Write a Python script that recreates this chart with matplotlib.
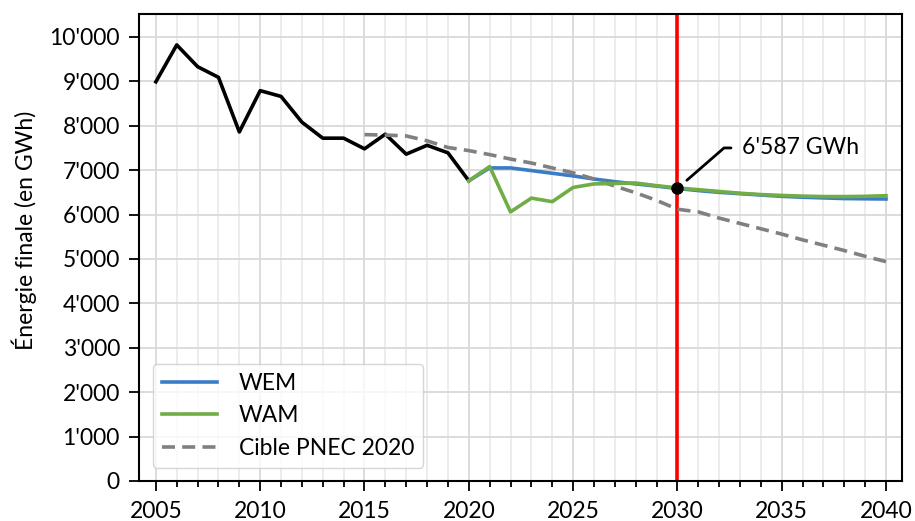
import numpy as np
import matplotlib.pyplot as plt
import matplotlib as mpl
from matplotlib.ticker import FuncFormatter, MultipleLocator

mpl.rcParams["font.family"] = ["Lato", "DejaVu Sans"]

# historical final energy consumption (GWh)
hist_years = list(range(2005, 2021))
hist = [8990, 9820, 9330, 9090, 7860, 8790, 8660, 8080, 7720, 7720,
        7480, 7810, 7360, 7560, 7390, 6760]

# projections
proj_years = list(range(2020, 2041))
wem = [6760, 7050, 7050, 6990, 6930, 6870, 6800, 6740, 6690, 6640,
       6587, 6540, 6500, 6470, 6440, 6410, 6390, 6375, 6360, 6355, 6350]
wam = [6760, 7080, 6060, 6370, 6290, 6610, 6690, 6700, 6710, 6650,
       6600, 6560, 6520, 6480, 6450, 6430, 6415, 6405, 6405, 6410, 6425]

# PNEC 2020 target
pnec_years = list(range(2015, 2041))
pnec = [7800, 7790, 7770, 7660, 7510, 7440, 7350, 7250, 7160, 7050,
        6940, 6800, 6640, 6490, 6320, 6120, 6060, 5920, 5800, 5680,
        5560, 5430, 5310, 5190, 5060, 4940]

target_year = 2030
target_val = 6587

fig = plt.figure(figsize=(9.15, 5.21), dpi=100)
ax = fig.add_axes([0.1519, 0.0768, 0.8342, 0.8958])

fs = 16.5
lw = 2.6
ax.axvline(target_year, color="#ff0000", lw=lw, zorder=2)
ax.plot(hist_years, hist, color="black", lw=lw, zorder=3)
l1, = ax.plot(proj_years, wem, color="#3a7dc6", lw=lw, zorder=3, label="WEM")
l2, = ax.plot(proj_years, wam, color="#70ad47", lw=lw, zorder=4, label="WAM")
l3, = ax.plot(pnec_years, pnec, color="#808080", lw=lw, ls=(0, (3.6, 2.0)),
              zorder=3, label="Cible PNEC 2020")
ax.plot([target_year], [target_val], "o", color="black", ms=8, zorder=6)

ax.annotate("6'587 GWh", xy=(target_year, target_val), xytext=(2033.1, 7500),
            ha="left", va="center", fontsize=fs,
            arrowprops=dict(arrowstyle="-", color="black", lw=2.0,
                            connectionstyle="angle,angleA=0,angleB=41,rad=0",
                            shrinkA=6, shrinkB=9))

ax.set_xlim(2004.19, 2040.78)
ax.set_ylim(0, 10510)
ax.xaxis.set_major_locator(MultipleLocator(5))
ax.xaxis.set_minor_locator(MultipleLocator(1))
ax.yaxis.set_major_locator(MultipleLocator(1000))
ax.yaxis.set_major_formatter(FuncFormatter(lambda v, p: f"{int(v):,}".replace(",", "'")))

ax.grid(which="major", color="#d9d9d9", lw=1.3, zorder=0)
ax.grid(which="minor", axis="x", color="#ebebeb", lw=1.3, zorder=0)
ax.set_axisbelow(True)

ax.tick_params(axis="both", which="major", labelsize=fs, length=7.2, width=1.3, direction="out")
ax.tick_params(axis="y", which="major", pad=6.5)
ax.tick_params(axis="x", which="major", pad=7.5)
ax.tick_params(axis="x", which="minor", length=4.5, width=1.3)
for s in ax.spines.values():
    s.set_linewidth(1.5)

ax.set_ylabel("Énergie finale (en GWh)", fontsize=fs)
ax.yaxis.set_label_coords(-0.133, 0.538)

ax.legend(handles=[l1, l2, l3], loc="lower left", bbox_to_anchor=(0.018, 0.028),
          borderaxespad=0, fontsize=fs, handlelength=2.4, handletextpad=0.95,
          framealpha=0.8, fancybox=True)

fig.savefig("out.png", dpi=100)
